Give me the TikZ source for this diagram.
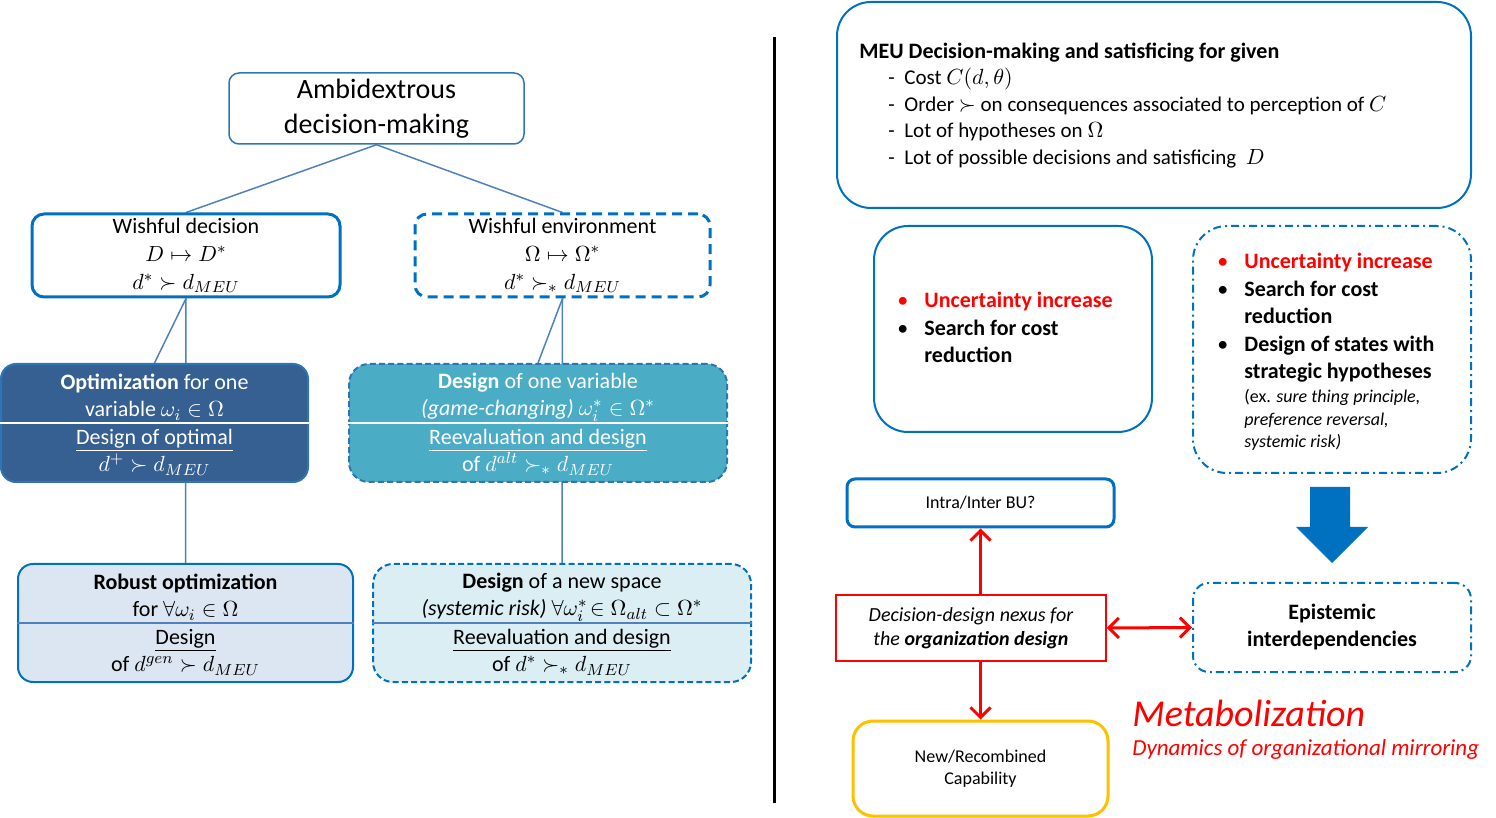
\documentclass[tikz,border=0pt]{standalone}
\usepackage{fontspec}
\setmainfont{Carlito}
\usetikzlibrary{arrows.meta, backgrounds, positioning}
\definecolor{boxblue}{RGB}{0,112,192}
\definecolor{edgeblue}{RGB}{46,117,182}
\definecolor{lineblue}{RGB}{79,129,189}
\definecolor{optblue}{RGB}{54,96,146}
\definecolor{aquablue}{RGB}{75,172,198}
\definecolor{paleblue}{RGB}{220,230,242}
\definecolor{paleaqua}{RGB}{218,238,243}
\definecolor{capyellow}{RGB}{255,192,0}
\newcommand{\bulletmark}{\makebox[13.5pt][l]{\mdseries\textbullet}}

\begin{document}
\begin{tikzpicture}[x=0.5pt, y=-0.5pt,
        box/.style={draw=boxblue, line width=1pt, rounded corners=6pt, align=center, inner sep=0pt},
        txt/.style={align=center, inner sep=0pt, font=\fontsize{11}{13.75}\selectfont},
        dashedbox/.style={dash pattern=on 5pt off 3pt},
        finedash/.style={dash pattern=on 3pt off 1.6pt},
        dotdash/.style={dash pattern=on 4pt off 2pt on 1pt off 2pt},
        link/.style={draw=lineblue, line width=0.75pt},
        redarrow/.style={draw=red, line width=1.5pt, -{Straight Barb[length=5pt,width=10pt]}},
        redboth/.style={draw=red, line width=1.5pt, {Straight Barb[length=5pt,width=10pt]}-{Straight Barb[length=5pt,width=10pt]}}]
                \useasboundingbox (0,0) rectangle (1496,818);

                % left half
                \node[box, draw=edgeblue, line width=0.75pt, rounded corners=5pt, minimum width=147.5pt, minimum height=35.5pt,
                      font=\fontsize{14}{17.5}\selectfont] (amb) at (376.5,108.5) {Ambidextrous\\decision-making};
                \node[box, line width=1.5pt, minimum width=154pt, minimum height=41.5pt,
                      font=\fontsize{11}{14}\selectfont] (wd) at (186,255.5) {Wishful decision\\$D\mapsto D^*$\\$d^*\succ d_{MEU}$};
                \node[box, dashedbox, line width=1.5pt, minimum width=147.5pt, minimum height=41.5pt,
                      font=\fontsize{11}{14}\selectfont] (we) at (562.5,255.5) {Wishful environment\\$\Omega\mapsto\Omega^*$\\$d^*\succ_* d_{MEU}$};

                \node[box, draw=edgeblue, fill=optblue, rounded corners=7.5pt, minimum width=153.5pt, minimum height=59pt] (opt) at (154.5,423) {};
                \draw[white, line width=0.6pt] (opt.west) -- (opt.east);
                \node[txt, white] (opttop) at (154.5,397) {\textbf{Optimization} for one\\variable $\omega_i\in\Omega$};
                \node[txt, white] (optbot) at (154.5,452) {\underline{Design of optimal}\\$d^+\succ d_{MEU}$};

                \node[box, finedash, draw=edgeblue, fill=aquablue, rounded corners=10pt, minimum width=189pt, minimum height=59pt] (dv) at (538,423) {};
                \draw[white, line width=0.6pt] (dv.west) -- (dv.east);
                \node[txt, white] (dvtop) at (538,397) {\textbf{Design} of one variable\\\textit{(game-changing)} $\omega_i^*\in\Omega^*$};
                \node[txt, white] (dvbot) at (538,452) {\underline{Reevaluation and design}\\of $d^{alt}\succ_* d_{MEU}$};

                \node[box, fill=paleblue, rounded corners=7.5pt, minimum width=167.5pt, minimum height=59pt] (rob) at (185.5,623) {};
                \draw[lineblue, line width=0.6pt] (rob.west) -- (rob.east);
                \node[txt] (robtop) at (185.5,597) {\textbf{Robust optimization}\\for $\forall\omega_i\in\Omega$};
                \node[txt] (robbot) at (185.5,652) {\underline{Design}\\of $d^{gen}\succ d_{MEU}$};

                \node[box, finedash, fill=paleaqua, rounded corners=10pt, minimum width=189pt, minimum height=59pt] (ns) at (562,623) {};
                \draw[lineblue, line width=0.6pt] (ns.west) -- (ns.east);
                \node[txt] (nstop) at (562,597) {\textbf{Design} of a new space\\\textit{(systemic risk)} $\forall\omega_i^*\!\in\Omega_{alt}\subset\Omega^*$};
                \node[txt] (nsbot) at (562,652) {\underline{Reevaluation and design}\\of $d^*\succ_* d_{MEU}$};

                \begin{pgfonlayer}{background}
                \draw[link] (amb.south) -- (wd.north);
                \draw[link] (amb.south) -- (we.north);
                \draw[link] (wd.south) -- (opt.north);
                \draw[link] (wd.south) -- (rob.north);
                \draw[link] (we.south) -- (dv.north);
                \draw[link] (we.south) -- (ns.north);
                \end{pgfonlayer}

                \coordinate (divtop) at (774,37);
                \coordinate (divbot) at (774,803);
                \draw[line width=1.5pt] (divtop) -- (divbot);

                % right half
                \node[box, rounded corners=17pt, minimum width=317pt, minimum height=103pt] (meu) at (1154,105) {};
                \node[txt, anchor=west, align=left, font=\fontsize{10.5}{13.25}\selectfont] (meutxt) at (859,106) {\begin{tabular}{@{}l@{}}
                    {\fontsize{11}{13.25}\selectfont\bfseries MEU Decision-making and satisficing for given}\\
                    \hspace*{14.5pt}\makebox[8pt][l]{-}Cost $C(d,\theta)$\\
                    \hspace*{14.5pt}\makebox[8pt][l]{-}Order $\succ$ on consequences associated to perception of $C$\\
                    \hspace*{14.5pt}\makebox[8pt][l]{-}Lot of hypotheses on $\Omega$\\
                    \hspace*{14.5pt}\makebox[8pt][l]{-}Lot of possible decisions and satisficing\ \ $D$
                    \end{tabular}};

                \node[box, rounded corners=17pt, minimum width=139pt, minimum height=103pt] (unc) at (1013,329) {};
                \node[txt, anchor=west, align=left, font=\fontsize{11}{13.75}\selectfont\bfseries] (unctxt) at (897,330) {\begin{tabular}{@{}l@{}l@{}}
                    {\color{red}\bulletmark} & \color{red}Uncertainty increase\\
                    \bulletmark & Search for cost\\
                     & reduction
                    \end{tabular}};

                \node[box, dotdash, rounded corners=17pt, minimum width=139pt, minimum height=123.5pt] (unc2) at (1332,349.5) {};
                \node[txt, anchor=west, align=left, font=\fontsize{11}{13.75}\selectfont\bfseries] (unc2txt) at (1217,318.5) {\begin{tabular}{@{}l@{}l@{}}
                    {\color{red}\bulletmark} & \color{red}Uncertainty increase\\
                    \bulletmark & Search for cost\\
                     & reduction\\
                    \bulletmark & Design of states with\\
                     & strategic hypotheses
                    \end{tabular}};
                \node[txt, anchor=west, align=left, font=\fontsize{9}{11.25}\selectfont] (unc2note) at (1244,420) {(ex. \textit{sure thing principle,}\\\textit{preference reversal,}\\\textit{systemic risk)}};

                \fill[boxblue] (1310,487) -- (1350,487) -- (1350,527) -- (1368,527) -- (1332,563) -- (1296,527) -- (1310,527) -- cycle;

                \node[box, line width=1.5pt, rounded corners=4pt, minimum width=133.5pt, minimum height=24pt,
                      font=\fontsize{9}{11}\selectfont] (intra) at (980.5,503) {Intra/Inter BU?};
                \node[draw=red, line width=0.75pt, align=center, inner sep=0pt, minimum width=135pt, minimum height=33pt,
                      font=\fontsize{10}{12}\selectfont\itshape] (nexus) at (971,628) {Decision-design nexus for\\the \textbf{organization design}};
                \node[box, dotdash, rounded corners=8pt, minimum width=139pt, minimum height=44.5pt,
                      font=\fontsize{11}{13.5}\selectfont\bfseries] (ep) at (1332,627.5) {Epistemic\\interdependencies};
                \node[box, draw=capyellow, line width=1.5pt, rounded corners=10pt, minimum width=127.5pt, minimum height=47.5pt,
                      font=\fontsize{9}{11}\selectfont] (cap) at (980.5,768.5) {New/Recombined\\Capability};

                \draw[redarrow] (nexus.north -| intra.south) -- (intra.south);
                \draw[redarrow] (nexus.south -| cap.north) -- (cap.north);
                \draw[redboth] (nexus.east) -- (ep.west);

                \node[red, anchor=west, inner sep=0pt, font=\fontsize{19}{22}\selectfont\itshape] (metab) at (1132,713) {Metabolization};
                \node[red, anchor=west, inner sep=0pt, font=\fontsize{11.5}{13}\selectfont\itshape] (mirror) at (1132,749) {Dynamics of organizational mirroring};
            \end{tikzpicture}
\end{document}
